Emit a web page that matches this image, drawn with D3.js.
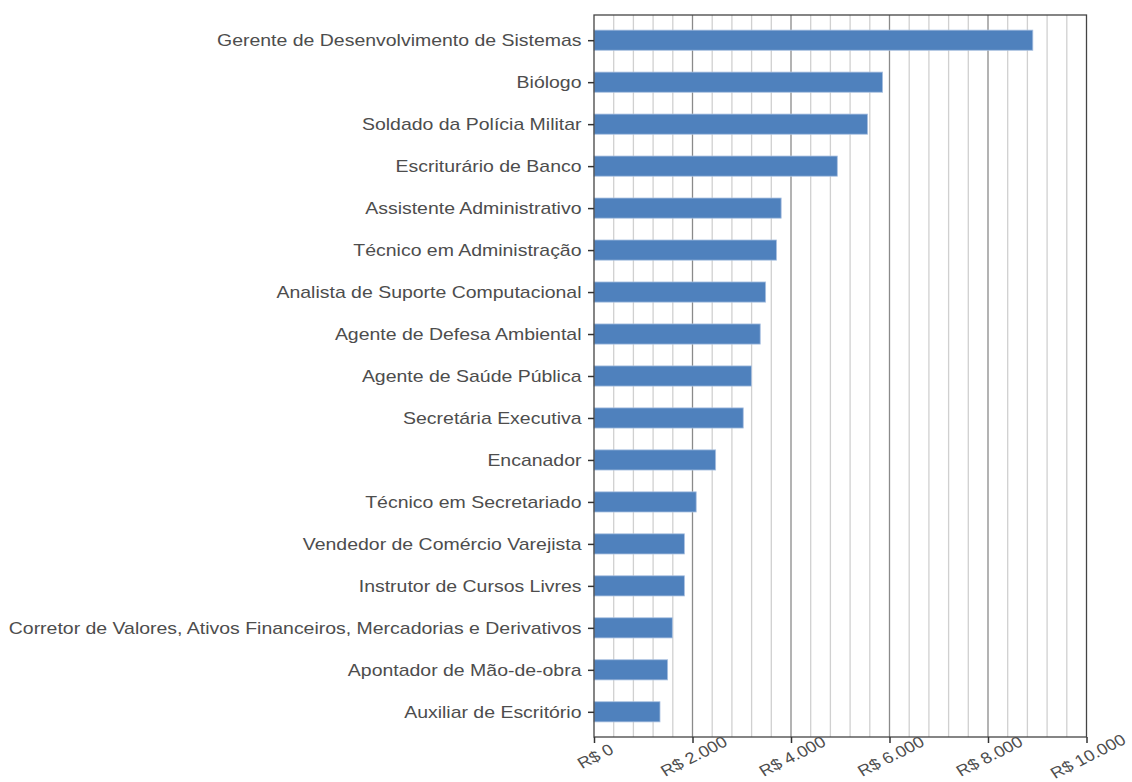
<!DOCTYPE html>
<html>
<head>
<meta charset="utf-8">
<script src="https://cdn.jsdelivr.net/npm/d3@7"></script>
<style>
  body { margin: 0; background: #fff; }
  .label { font-family: "Liberation Sans", Arial, sans-serif; fill: #4d4d4d; }
</style>
</head>
<body>
<script>
'use strict';

// categories from top to bottom
const profissoes = [
  "Gerente de Desenvolvimento de Sistemas",
  "Biólogo",
  "Soldado da Polícia Militar",
  "Escriturário de Banco",
  "Assistente Administrativo",
  "Técnico em Administração",
  "Analista de Suporte Computacional",
  "Agente de Defesa Ambiental",
  "Agente de Saúde Pública",
  "Secretária Executiva",
  "Encanador",
  "Técnico em Secretariado",
  "Vendedor de Comércio Varejista",
  "Instrutor de Cursos Livres",
  "Corretor de Valores, Ativos Financeiros, Mercadorias e Derivativos",
  "Apontador de Mão-de-obra",
  "Auxiliar de Escritório"
];

// salario medio (R$)
const salarios = [8910, 5860, 5555, 4940, 3800, 3705, 3485, 3375, 3195, 3030, 2470, 2075, 1835, 1835, 1590, 1495, 1340];

const xTicks = [0, 2000, 4000, 6000, 8000, 10000];
const xTickLabels = ["R$ 0", "R$ 2.000", "R$ 4.000", "R$ 6.000", "R$ 8.000", "R$ 10.000"];

const W = 1132, H = 782;
const margin = {top: 15, right: 45.5, bottom: 45, left: 594};
const width = W - margin.left - margin.right;
const height = H - margin.top - margin.bottom;
const stretch = 1.145; // labels look a bit wider than normal

const svg = d3.select('body').append('svg')
  .attr('width', W)
  .attr('height', H);

const g = svg.append('g')
  .attr('transform', 'translate(' + margin.left + ',' + margin.top + ')');

const x = d3.scaleLinear().domain([0, 10000]).range([0, width]);
const y = d3.scalePoint().domain(profissoes).range([0, height]).padding(0.6);
const barH = y.step() * 0.48;

// minor grid every 400
g.append('g').selectAll('line')
  .data(d3.range(400, 10000, 400).filter(v => v % 2000 !== 0))
  .enter().append('line')
  .attr('x1', d => x(d)).attr('x2', d => x(d))
  .attr('y1', 0).attr('y2', height)
  .attr('stroke', '#d0d0d0')
  .attr('stroke-width', 1.3);

// major grid
g.append('g').selectAll('line')
  .data(xTicks.slice(1, -1))
  .enter().append('line')
  .attr('x1', d => x(d)).attr('x2', d => x(d))
  .attr('y1', 0).attr('y2', height)
  .attr('stroke', '#8a8a8a')
  .attr('stroke-width', 1.3);

// bars
g.selectAll('.bar')
  .data(profissoes)
  .enter().append('rect')
  .attr('class', 'bar')
  .attr('x', x(0))
  .attr('y', d => y(d) - barH / 2)
  .attr('width', (d, i) => x(salarios[i]) - x(0))
  .attr('height', barH)
  .attr('fill', '#4f81bd')
  .attr('stroke', '#a9c0e0')
  .attr('stroke-width', 0.8);

// panel border
g.append('rect')
  .attr('width', width).attr('height', height)
  .attr('fill', 'none')
  .attr('stroke', '#444')
  .attr('stroke-width', 1.3);

// y axis
const yAxis = g.append('g')
  .call(d3.axisLeft(y).tickSize(6).tickPadding(5));
yAxis.select('.domain').remove();
yAxis.selectAll('line').attr('stroke', '#333').attr('stroke-width', 1.5);
yAxis.selectAll('text')
  .attr('class', 'label')
  .style('font-size', '17px')
  .attr('fill', '#4d4d4d')
  .attr('x', 0)
  .attr('transform', 'translate(-12.5,0) scale(' + stretch + ',1)');

// x axis
const xAxis = g.append('g')
  .attr('transform', 'translate(0,' + height + ')')
  .call(d3.axisBottom(x).tickValues(xTicks).tickSize(6)
    .tickFormat((d, i) => xTickLabels[i]));
xAxis.select('.domain').remove();
xAxis.selectAll('line').attr('stroke', '#333').attr('stroke-width', 1.5);
xAxis.selectAll('text')
  .attr('class', 'label')
  .style('font-size', '15.8px')
  .attr('fill', '#4d4d4d')
  .style('text-anchor', 'middle')
  .attr('x', 0).attr('y', 0).attr('dy', 0)
  .attr('transform', 'translate(4,24) scale(' + stretch + ',1) rotate(-30)');
</script>
</body>
</html>
